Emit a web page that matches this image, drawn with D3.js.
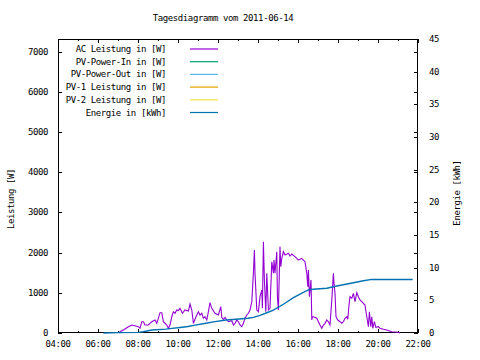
<!DOCTYPE html>
<html><head><meta charset="utf-8">
<script src="https://cdn.jsdelivr.net/npm/d3@7"></script>
<style>
body{margin:0;background:#fff}
text{font-family:"DejaVu Sans Mono",monospace;font-size:9px;letter-spacing:-0.4px;fill:#000}
</style>
</head><body><svg id="c" width="480" height="360"></svg>
<script>
const title = "Tagesdiagramm vom 2011-06-14";
const xTickHours = [4,6,8,10,12,14,16,18,20,22];
const xTickLabels = ["04:00","06:00","08:00","10:00","12:00","14:00","16:00","18:00","20:00","22:00"];
const xMinorHours = [5,7,9,11,13,15,17,19,21];
const yTicks = [0,1000,2000,3000,4000,5000,6000,7000];
const y2Ticks = [0,5,10,15,20,25,30,35,40,45];
const yLabel = "Leistung [W]";
const y2Label = "Energie [kWh]";
const seriesNames = ["AC Leistung in [W]","PV-Power-In in [W]","PV-Power-Out in [W]","PV-1 Leistung in [W]","PV-2 Leistung in [W]","Energie in [kWh]"];
const seriesColors = ["#9400d3","#009e73","#56b4e9","#e69f00","#f0e442","#0072b2"];

const acTime = [7.05,7.10,7.27,7.52,7.69,7.85,8.02,8.10,8.19,8.27,8.35,8.52,8.69,8.85,8.94,9.10,9.19,9.27,9.44,9.52,9.60,9.69,9.77,9.85,9.94,10.02,10.10,10.22,10.35,10.52,10.60,10.69,10.77,10.89,11.02,11.10,11.19,11.27,11.35,11.44,11.52,11.60,11.69,11.85,12.02,12.14,12.19,12.27,12.35,12.44,12.52,12.69,12.77,12.85,12.94,13.02,13.10,13.19,13.27,13.35,13.44,13.52,13.60,13.69,13.77,13.82,13.85,13.94,14.02,14.10,14.19,14.22,14.27,14.32,14.39,14.44,14.52,14.60,14.69,14.77,14.80,14.85,14.94,14.97,15.02,15.10,15.14,15.19,15.27,15.35,15.52,15.60,15.69,15.85,15.94,16.02,16.19,16.27,16.35,16.44,16.49,16.52,16.57,16.65,16.69,16.72,16.77,16.94,17.02,17.10,17.19,17.27,17.35,17.44,17.52,17.60,17.69,17.74,17.77,17.80,17.85,17.90,17.99,18.10,18.19,18.27,18.35,18.44,18.49,18.55,18.60,18.69,18.77,18.85,18.94,19.02,19.10,19.19,19.27,19.35,19.44,19.52,19.57,19.64,19.69,19.74,19.82,19.89,20.02,20.10,20.27,20.44,20.69,21.02,21.10];
const acPower = [0,32,75,157,199,182,157,117,281,281,199,199,281,323,241,505,505,281,199,117,199,405,530,490,572,560,614,490,572,547,721,572,241,390,530,448,490,366,405,323,530,754,614,490,448,654,390,341,390,323,281,306,199,241,323,281,199,157,241,366,448,490,572,778,1485,2064,1485,572,530,903,1069,614,2271,1318,530,1485,572,614,1773,1485,1815,1485,2022,903,572,2146,1649,1858,2022,1940,1982,1915,1965,1898,1858,1815,1858,1815,1773,1485,1151,1567,903,1318,323,405,405,366,281,199,117,199,241,323,281,199,821,1236,1485,1236,987,405,323,281,241,281,366,405,341,696,903,863,987,778,1002,903,821,778,739,696,405,157,530,157,405,117,281,142,157,117,92,75,32,17,0];

const pvInTime = [], pvInPower = [];
const pvOutTime = [], pvOutPower = [];
const pv1Time = [], pv1Power = [];
const pv2Time = [], pv2Power = [];

const energyTime = [6.27,7.0,8.0,8.25,8.7,9.4,9.7,10.1,10.5,10.85,11.4,11.85,12.4,12.9,13.5,13.77,14.1,14.44,14.77,15.27,15.77,16.27,16.52,16.77,17.44,17.94,18.77,19.27,19.69,21.73];
const energyValue = [0,0.05,0.1,0.2,0.45,0.6,0.7,0.85,1.0,1.2,1.5,1.75,2.0,2.1,2.25,2.4,2.7,3.1,3.5,4.4,5.4,6.2,6.6,6.7,6.85,7.2,7.7,8.0,8.2,8.2];

const svg = d3.select("#c");
const L=58, R=418, T=39, B=333;
const x = d3.scaleLinear().domain([4,22]).range([L,R]);
const y = d3.scaleLinear().domain([0,7313]).range([B,T]);
const y2 = d3.scaleLinear().domain([0,45]).range([B,T]);

svg.append("text").attr("x",223).attr("y",21).attr("text-anchor","middle").text(title);

const g = svg.append("g").attr("stroke","#000").attr("stroke-width",1).attr("shape-rendering","crispEdges");
// x ticks bottom/top
xTickHours.forEach(h=>{
  g.append("line").attr("x1",x(h)).attr("x2",x(h)).attr("y1",B).attr("y2",B-4);
  g.append("line").attr("x1",x(h)).attr("x2",x(h)).attr("y1",T).attr("y2",T+4);
});
xMinorHours.forEach(h=>{
  g.append("line").attr("x1",x(h)).attr("x2",x(h)).attr("y1",B).attr("y2",B-2);
  g.append("line").attr("x1",x(h)).attr("x2",x(h)).attr("y1",T).attr("y2",T+2);
});
yTicks.forEach(v=>{
  g.append("line").attr("x1",L).attr("x2",L+4).attr("y1",Math.round(y(v))+0.5).attr("y2",Math.round(y(v))+0.5);
  g.append("line").attr("x1",R).attr("x2",R-4).attr("y1",Math.round(y(v))+0.5).attr("y2",Math.round(y(v))+0.5);
});
y2Ticks.forEach(v=>{
  g.append("line").attr("x1",R).attr("x2",R-4).attr("y1",Math.round(y2(v))+0.5).attr("y2",Math.round(y2(v))+0.5);
});
g.append("rect").attr("x",L+0.5).attr("y",T+0.5).attr("width",R-L-1).attr("height",B-T-1).attr("fill","none");

xTickHours.forEach((h,i)=>{
  svg.append("text").attr("x",x(h)).attr("y",B+14).attr("text-anchor","middle").text(xTickLabels[i]);
});
yTicks.forEach(v=>{
  svg.append("text").attr("x",48).attr("y",y(v)+3).attr("text-anchor","end").text(v);
});
y2Ticks.forEach(v=>{
  svg.append("text").attr("x",429).attr("y",y2(v)+3).attr("text-anchor","start").text(v);
});
svg.append("text").attr("transform","translate(14,199) rotate(-90)").attr("text-anchor","middle").text(yLabel);
svg.append("text").attr("transform","translate(460,193) rotate(-90)").attr("text-anchor","middle").text(y2Label);

// legend
seriesNames.forEach((n,i)=>{
  const ly = 49 + i*12.7;
  svg.append("text").attr("x",166).attr("y",ly+3).attr("text-anchor","end").text(n);
  svg.append("line").attr("x1",190).attr("x2",218).attr("y1",ly).attr("y2",ly)
    .attr("stroke",seriesColors[i]).attr("stroke-width",1.2);
});

const line = d3.line().x(d=>x(d[0])).y(d=>y(d[1]));
const line2 = d3.line().x(d=>x(d[0])).y(d=>y2(d[1]));
function pairs(a,b){return a.map((t,i)=>[t,b[i]]);}
const plot = svg.append("g");
[[pvInTime,pvInPower,1],[pvOutTime,pvOutPower,2],[pv1Time,pv1Power,3],[pv2Time,pv2Power,4]].forEach(([t,p,ci])=>{
  plot.append("path").datum(pairs(t,p)).attr("d",line).attr("fill","none").attr("stroke",seriesColors[ci]).attr("stroke-width",1);
});
plot.append("path").datum(pairs(acTime,acPower)).attr("d",line).attr("fill","none").attr("stroke",seriesColors[0]).attr("stroke-width",1.1);
plot.append("path").datum(pairs(energyTime,energyValue)).attr("d",line2).attr("fill","none").attr("stroke",seriesColors[5]).attr("stroke-width",1.4);
</script>
</body></html>
